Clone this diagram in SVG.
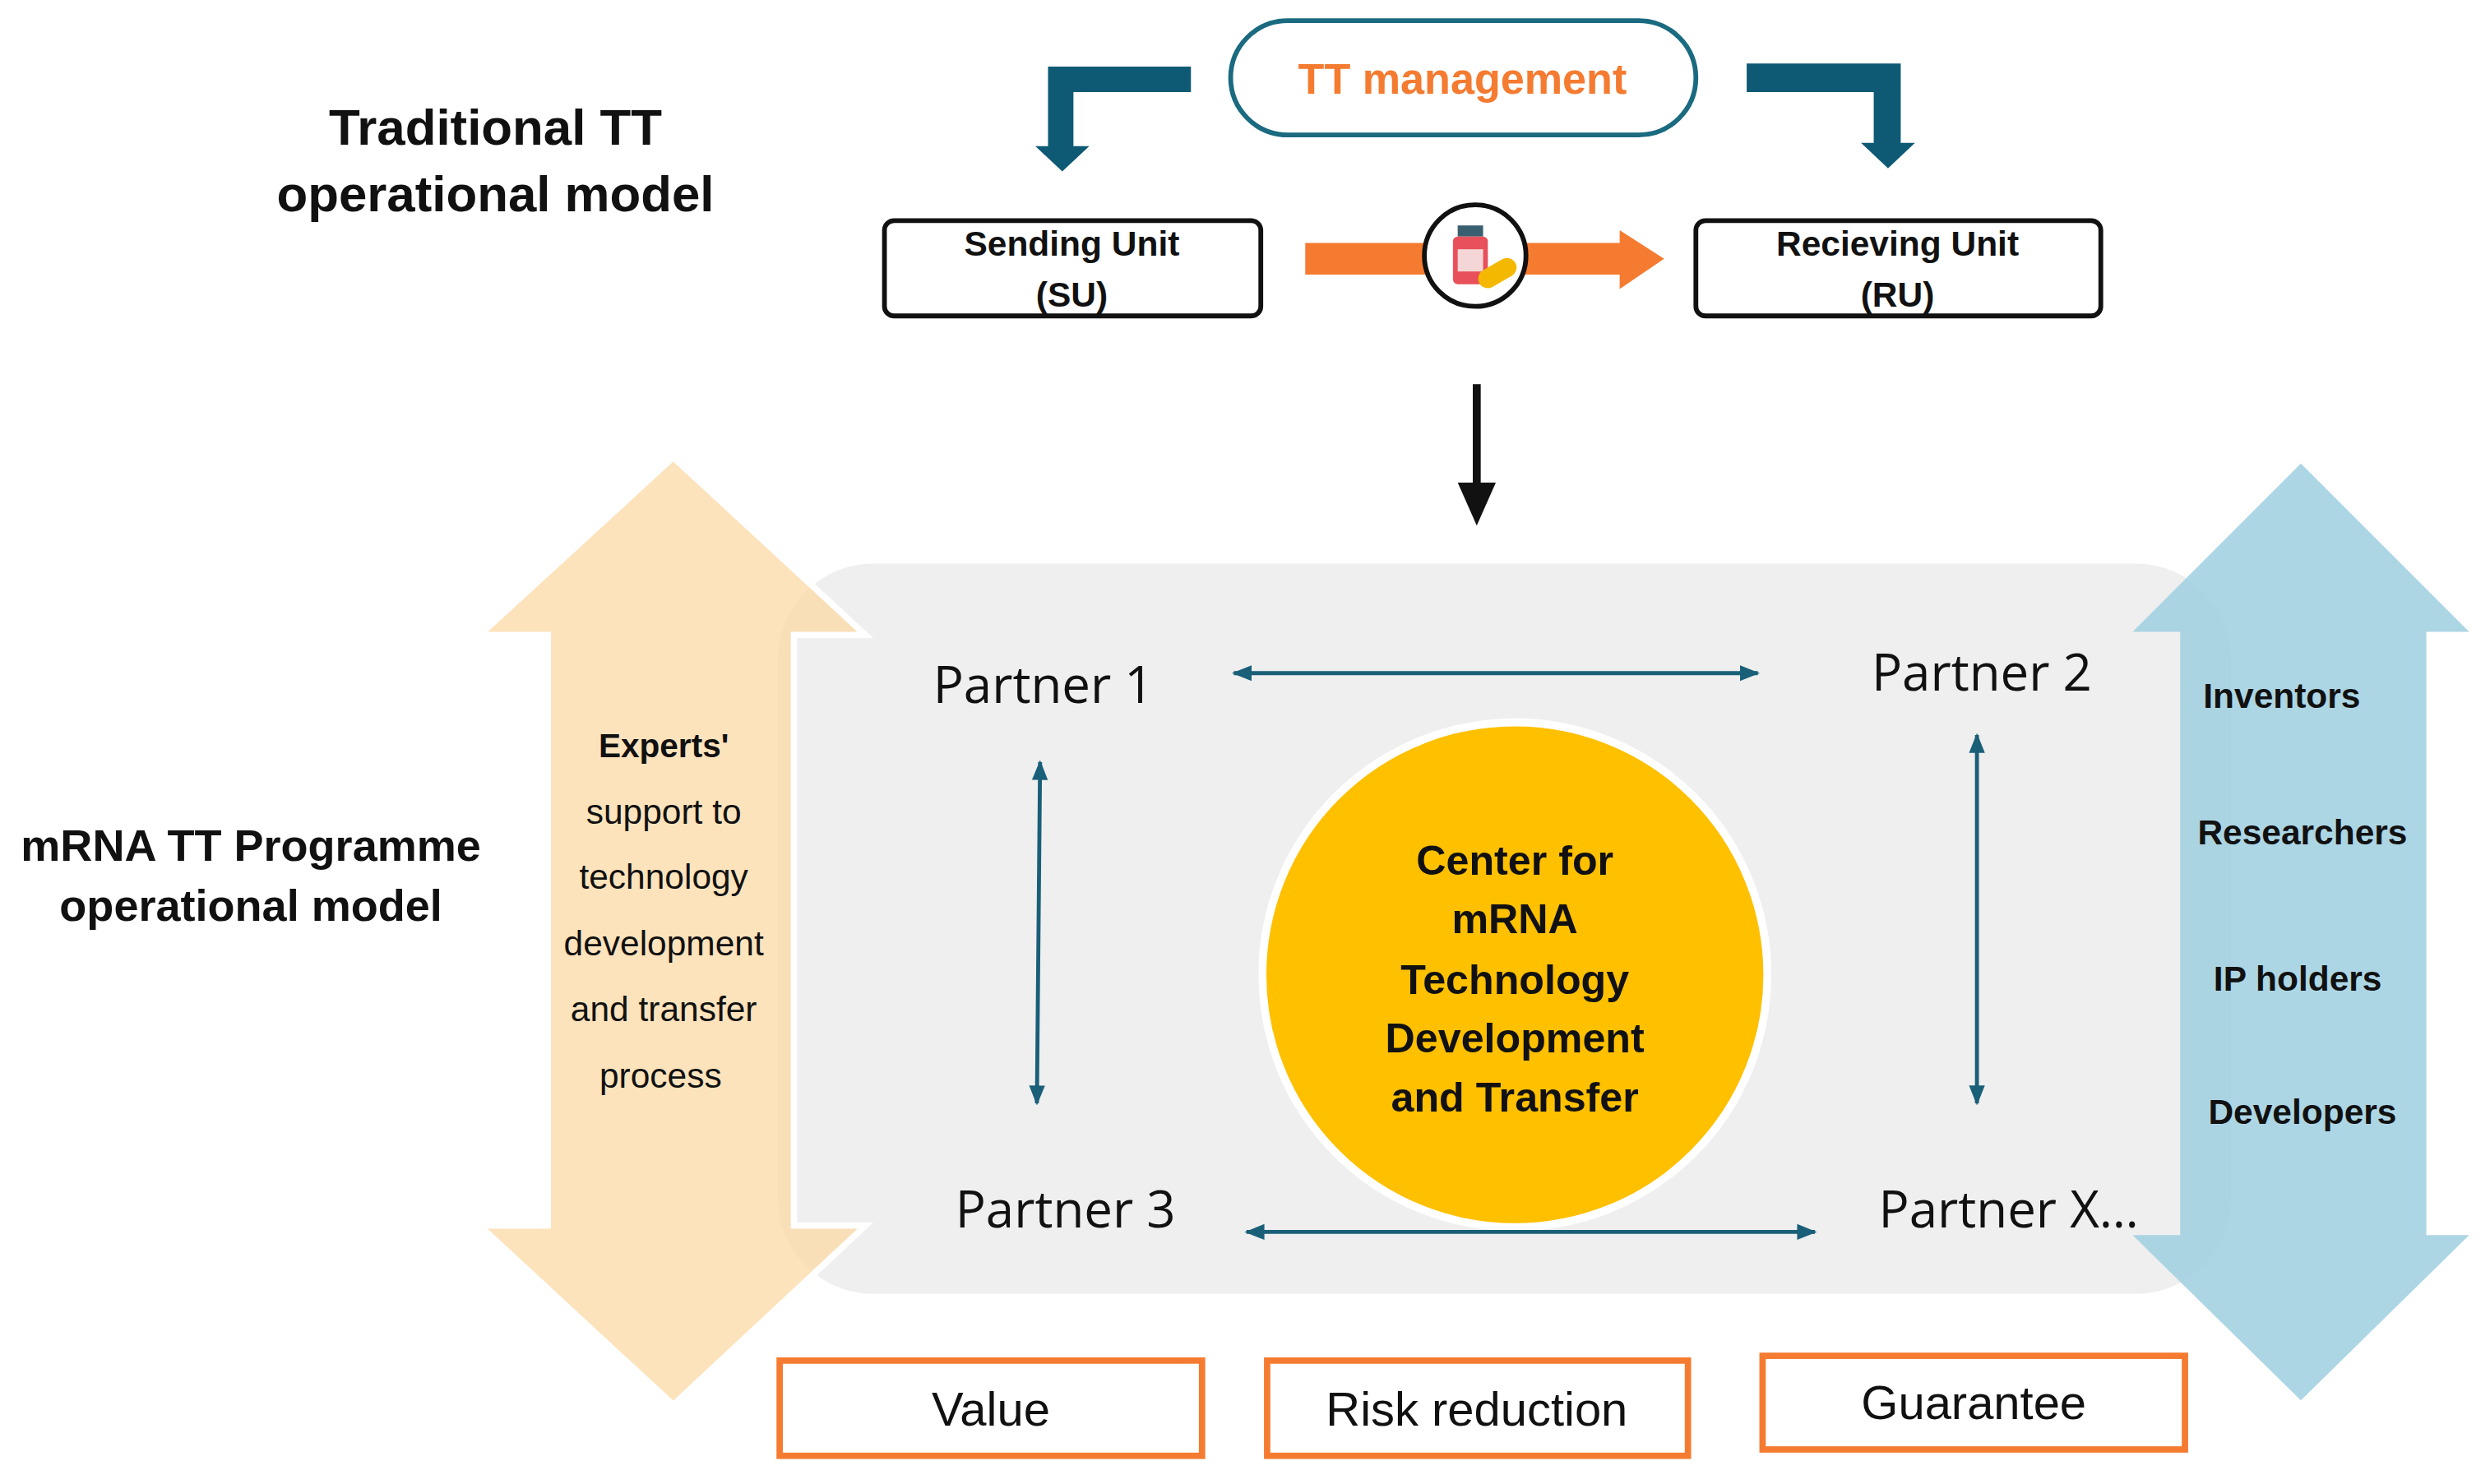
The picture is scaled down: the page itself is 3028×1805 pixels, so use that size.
<svg xmlns="http://www.w3.org/2000/svg" width="3028" height="1805" viewBox="0 0 3028 1805">
<style>
.t{font-family:"Liberation Sans",Arial,sans-serif;fill:#111;text-anchor:middle}
.b{font-weight:bold}
.p{font-family:"Open Sans","Liberation Sans",sans-serif;font-size:32px;fill:#111;text-anchor:middle}
.box{fill:#fff;stroke:#f47b30;stroke-width:4}
.con{stroke:#1a5f78;stroke-width:2.5;fill:none}
</style>
<defs>
<marker id="ah" viewBox="0 0 10 10" refX="9" refY="5" markerWidth="5" markerHeight="5" orient="auto-start-reverse"><path d="M0,1 L10,5 L0,9 z" fill="#1a5f78"/></marker>
</defs>
<rect width="3028" height="1805" fill="#fff"/>
<g transform="scale(1.931)">
<g id="titles">
<text class="t b" x="312" y="91" font-size="32">Traditional TT</text>
<text class="t b" x="312" y="133" font-size="32">operational  model</text>
<text class="t b" x="158" y="542" font-size="28">mRNA TT Programme</text>
<text class="t b" x="158" y="580" font-size="28">operational  model</text>
</g>
<g id="tt-management">
<rect x="775" y="13" width="293" height="72" rx="36" fill="#fff" stroke="#1a6a80" stroke-width="3"/>
<text class="t b" x="921" y="59" font-size="27" style="fill:#f47b30">TT management</text>
<path d="M750,42 H660 V92 H652 L669,108 L686,92 H676 V58 H750 z" fill="#0e5a74"/>
<path d="M1100,40 H1197 V90 H1206 L1189,106 L1172,90 H1180 V58 H1100 z" fill="#0e5a74"/>
</g>
<g id="sending-unit">
<rect x="557" y="139" width="237" height="60" rx="6" fill="#fff" stroke="#111" stroke-width="3"/>
<text class="t b" x="675" y="161" font-size="22">Sending Unit</text>
<text class="t b" x="675" y="193" font-size="22">(SU)</text>
</g>
<g id="receiving-unit">
<rect x="1068" y="139" width="255" height="60" rx="6" fill="#fff" stroke="#111" stroke-width="3"/>
<text class="t b" x="1195" y="161" font-size="22">Recieving Unit</text>
<text class="t b" x="1195" y="193" font-size="22">(RU)</text>
</g>
<g id="transfer">
<path d="M822,153 H1020 V145 L1048,163 L1020,182 V173 H822 z" fill="#f47b30"/>
<circle cx="929" cy="161" r="32" fill="#fff" stroke="#111" stroke-width="3"/>
<rect x="918" y="142" width="16" height="7" fill="#3a5f70"/>
<rect x="915" y="149" width="22" height="30" rx="3" fill="#e8505b"/>
<rect x="918" y="157" width="16" height="14" fill="#f4d6d6"/>
<rect x="930" y="166" width="26" height="12" rx="6" fill="#f5b800" transform="rotate(-30 943 172)"/>
<path d="M930,242 V312" stroke="#111" stroke-width="5"/>
<path d="M918,304 L930,331 L942,304 z" fill="#111"/>
</g>
<g id="platform">
<rect x="490" y="355" width="915" height="460" rx="60" fill="#efefef"/>
</g>
<g id="experts-arrow">
<path d="M424,288 L545,400 H500 V772 H545 L424,885 L302,772 H345 V400 H302 z" fill="#fcd9a6" fill-opacity="0.75" stroke="#fff" stroke-width="4"/>
<text class="t b" x="418" y="477" font-size="21">Experts'</text>
<text class="t" x="418" y="519" font-size="22">support to</text>
<text class="t" x="418" y="560" font-size="22">technology</text>
<text class="t" x="418" y="602" font-size="22">development</text>
<text class="t" x="418" y="643" font-size="22">and transfer</text>
<text class="t" x="416" y="685" font-size="22">process</text>
</g>
<g id="stakeholders-arrow">
<path d="M1449,292 L1555,398 H1528 V778 H1555 L1449,882 L1343,778 H1373 V398 H1343 z" fill="#9fcfe1" fill-opacity="0.85"/>
<text class="t b" x="1437" y="446" font-size="22">Inventors</text>
<text class="t b" x="1450" y="532" font-size="22">Researchers</text>
<text class="t b" x="1447" y="624" font-size="22">IP holders</text>
<text class="t b" x="1450" y="708" font-size="22">Developers</text>
</g>
<g id="partner-1"><text class="p" x="657" y="443">Partner  1</text></g>
<g id="partner-2"><text class="p" x="1248" y="435">Partner  2</text></g>
<g id="partner-3"><text class="p" x="671" y="773">Partner  3</text></g>
<g id="partner-x"><text class="p" x="1265" y="773">Partner X…</text></g>
<g id="center">
<circle cx="954" cy="614" r="159" fill="#ffc000" stroke="#fff" stroke-width="5"/>
<text class="t b" x="954" y="551" font-size="26">Center for</text>
<text class="t b" x="954" y="588" font-size="26">mRNA</text>
<text class="t b" x="954" y="626" font-size="26">Technology</text>
<text class="t b" x="954" y="663" font-size="26">Development</text>
<text class="t b" x="954" y="700" font-size="26">and Transfer</text>
</g>
<g id="connectors">
<line class="con" x1="777" y1="424" x2="1107" y2="424" marker-start="url(#ah)" marker-end="url(#ah)"/>
<line class="con" x1="785" y1="776" x2="1143" y2="776" marker-start="url(#ah)" marker-end="url(#ah)"/>
<line class="con" x1="655" y1="480" x2="653" y2="695" marker-start="url(#ah)" marker-end="url(#ah)"/>
<line class="con" x1="1245" y1="463" x2="1245" y2="695" marker-start="url(#ah)" marker-end="url(#ah)"/>
</g>
<g id="value"><rect class="box" x="491" y="857" width="266" height="60"/><text class="t" x="624" y="898" font-size="30">Value</text></g>
<g id="risk"><rect class="box" x="798" y="857" width="265" height="60"/><text class="t" x="930" y="898" font-size="30">Risk reduction</text></g>
<g id="guarantee"><rect class="box" x="1110" y="854" width="266" height="59"/><text class="t" x="1243" y="894" font-size="30">Guarantee</text></g>
</g>
</svg>
